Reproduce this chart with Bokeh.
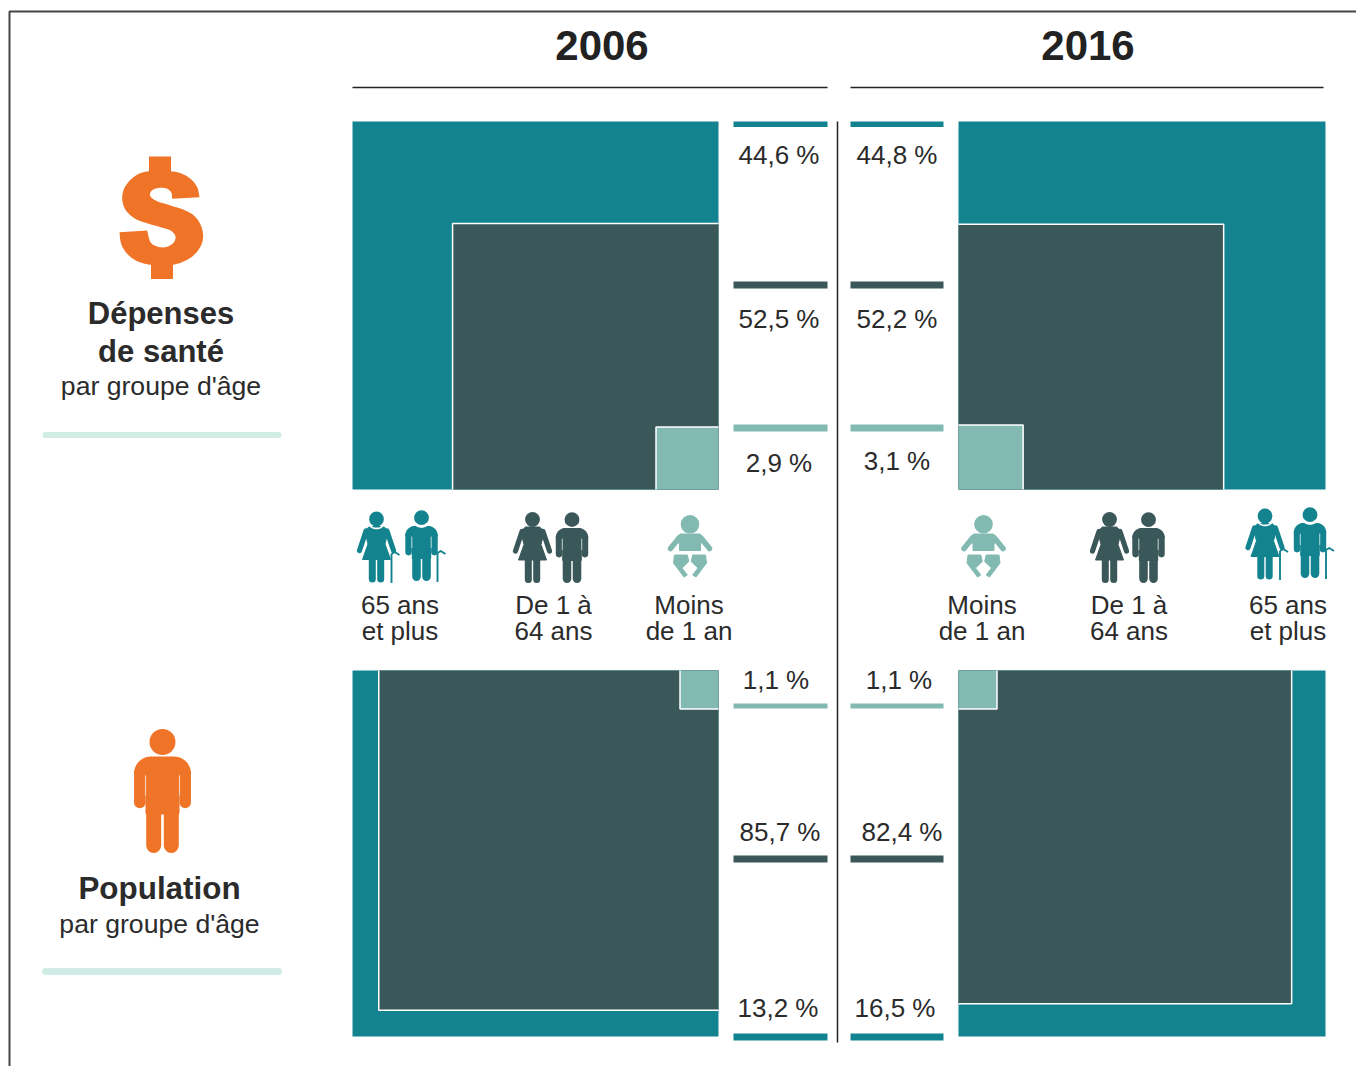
from bokeh.plotting import figure
from bokeh.embed import file_html
from bokeh.resources import INLINE
from bokeh.core.properties import value
from bokeh.models import Range1d
import numpy as np

years = ["2006", "2016"]
groups = ["65 ans\net plus", "De 1 à\n64 ans", "Moins\nde 1 an"]
spending_2006 = [44.6, 52.5, 2.9]
spending_2016 = [44.8, 52.2, 3.1]
population_2006 = [13.2, 85.7, 1.1]
population_2016 = [16.5, 82.4, 1.1]
spending_title = ["Dépenses", "de santé"]
population_title = ["Population"]
subtitle = "par groupe d'âge"

TEAL, DARK, LIGHT, ORANGE, PALE, INK = "#13848F", "#3A5759", "#82BAB2", "#F07427", "#D1EBE5", "#2B2B2B"
COL = [TEAL, DARK, LIGHT]
FONT = value("Liberation Sans")

W, H = 1356, 1066
p = figure(width=W, height=H, output_backend="svg", toolbar_location=None,
           x_range=Range1d(0, W), y_range=Range1d(H, 0), min_border=0)
p.axis.visible = False
p.grid.visible = False
p.outline_line_color = None
p.background_fill_color = "white"


def label(x, y, t, size, bold=False, color=INK, align="center"):
    p.text([x - 0.5], [y - 1], text=[t], text_font=FONT, text_font_size=f"{size}px",
           text_font_style="bold" if bold else "normal", text_color=color,
           text_align=align, text_baseline="middle")


# frame
p.line([9, 9, W], [H, 11, 11], line_color="#444444", line_width=2)

# year headers
for yr, cx, x0, x1 in zip(years, [602, 1088], [352, 850], [827, 1323]):
    label(cx, 46, yr, 42, bold=True, color="#222222")
    p.line([x0, x1], [87, 87], line_color="#222222", line_width=1.5)

# centre divider
p.line([837, 837], [121, 1042], line_color="#222222", line_width=1.5)

SIDE = 367.0


def squares(vals, anchor_x, anchor_y, direction):
    """Nested squares whose areas are the shares; the outer one is the whole."""
    ay = 1 if anchor_y == "bottom" else -1
    y0 = 489 if ay == 1 else 670
    far_x = 352 if direction < 0 else 1325
    far_y = 121 if ay == 1 else 1036
    p.quad(left=[min(anchor_x, far_x)], right=[max(anchor_x, far_x)], top=[far_y], bottom=[y0],
           fill_color=COL[0], line_color=None)
    for v, c in zip(vals[1:], COL[1:]):
        s = SIDE * np.sqrt(v / 100.0)
        xo = anchor_x + direction * s
        yo = y0 - ay * s
        p.quad(left=[min(anchor_x, xo)], right=[max(anchor_x, xo)], top=[yo], bottom=[y0],
               fill_color=c, line_color=None)
        p.line([xo, xo, anchor_x], [y0, yo, yo], line_color="white", line_width=1.5)


squares(spending_2006, 718, "bottom", -1)
squares(spending_2016, 958, "bottom", 1)
squares(population_2006, 718, "top", -1)
squares(population_2016, 958, "top", 1)

fmt = lambda v: f"{v:.1f}".replace(".", ",") + " %"
BAR_YS = {"top": [(121, 126.5), (281, 288), (424, 431)], "bot": [(1033, 1040), (855, 862), (703, 708)]}
top_lab = [[155, 319, 463], [155, 319, 461]]
bot_lab = [[1008, 832, 680], [1008, 832, 680]]
top_x = [779, 897]
bot_x = [[778, 780, 776], [895, 902, 899]]
bars_x = [(733, 827), (850, 943)]
for i, vals in enumerate([spending_2006, spending_2016]):
    for j, v in enumerate(vals):
        a, b = BAR_YS["top"][j]
        p.quad(left=[bars_x[i][0]], right=[bars_x[i][1]], top=[a], bottom=[b], fill_color=COL[j], line_color=None)
        label(top_x[i], top_lab[i][j], fmt(v), 26)
for i, vals in enumerate([population_2006, population_2016]):
    for j, v in enumerate(vals):
        a, b = BAR_YS["bot"][j]
        p.quad(left=[bars_x[i][0]], right=[bars_x[i][1]], top=[a], bottom=[b], fill_color=COL[j], line_color=None)
        label(bot_x[i][j], bot_lab[i][j], fmt(v), 26)


# icons -------------------------------------------------------------------
def arc_pts(cx, cy, r, a0, a1, n=10):
    t = np.radians(np.linspace(a0, a1, n))
    return cx + r * np.cos(t), cy + r * np.sin(t)


def man(cx, top, c, k=1.0):
    """Person drawn on a 57 x 124 box (scaled by k)."""
    p.circle([cx], [top + 12.5 * k], radius=13 * k, fill_color=c, line_color=None)
    xl, yl = arc_pts(cx - 11.5 * k, top + 44 * k, 17 * k, 180, 270)
    xr, yr = arc_pts(cx + 11.5 * k, top + 44 * k, 17 * k, 270, 360)
    xs = np.concatenate([xl, xr, [cx + 28.5 * k, cx + 16.5 * k, cx + 16.5 * k, cx - 16.5 * k, cx - 16.5 * k, cx - 28.5 * k]])
    ys = np.concatenate([yl, yr, [top + 45 * k, top + 45 * k, top + 85 * k, top + 85 * k, top + 45 * k, top + 45 * k]])
    p.patch(xs, ys, fill_color=c, line_color=None)
    p.segment([cx - 22.7 * k, cx + 22.7 * k], [top + 44 * k] * 2, [cx - 22.7 * k, cx + 22.7 * k], [top + 73 * k] * 2,
              line_color=c, line_width=11.5 * k, line_cap="round")
    p.segment([cx - 8.8 * k, cx + 8.8 * k], [top + 80 * k] * 2, [cx - 8.8 * k, cx + 8.8 * k], [top + 116 * k] * 2,
              line_color=c, line_width=15 * k, line_cap="round")
    p.patch([cx - 17 * k, cx + 17 * k, cx + 17 * k, cx - 17 * k],
            [top + 40 * k, top + 40 * k, top + 84 * k, top + 84 * k], fill_color=c, line_color=None)
    p.segment([cx - 17 * k, cx + 17 * k], [top + 46 * k] * 2, [cx - 17 * k, cx + 17 * k], [top + 66 * k] * 2,
              line_color="#FFFFFF", line_alpha=0.55, line_width=1.2)


def woman(cx, top, c):
    p.circle([cx], [top + 7], radius=7.4, fill_color=c, line_color=None)
    xs = np.array([-7, 7, 12, 10, 8.5, 14, -14, -8.5, -10, -12]) + cx
    ys = np.array([14.5, 14.5, 19, 26, 32, 47.5, 47.5, 32, 26, 19]) + top
    p.patch(xs, ys, fill_color=c, line_color=c, line_width=1, line_join="round")
    p.segment([cx - 10.5, cx + 10.5], [top + 19] * 2, [cx - 17, cx + 17], [top + 38.5] * 2,
              line_color=c, line_width=5.2, line_cap="round")
    p.segment([cx - 4.2, cx + 4.2], [top + 47] * 2, [cx - 4.2, cx + 4.2], [top + 67] * 2,
              line_color=c, line_width=7, line_cap="round")


def collar(cx, cy, r):
    x, y = arc_pts(cx, cy, r, 20, 160)
    p.line(x, y, line_color="white", line_width=1.6)


def cane(x, top, c, hook):
    p.line([x, x + hook * 0.4, x + hook], [top + 42, top + 40, top + 43], line_color=c, line_width=2, line_join="round")
    p.line([x, x], [top + 42, top + 71], line_color=c, line_width=1.9)


def baby(cx, top, c):
    p.circle([cx], [top + 9.3], radius=9.3, fill_color=c, line_color=None)
    xs = np.array([-10, 10, 14, 10.5, 10.5, -10.5, -10.5, -14]) + cx
    ys = np.array([19, 19, 24, 29, 35.5, 35.5, 29, 24]) + top
    p.patch(xs, ys, fill_color=c, line_color=c, line_width=1, line_join="round")
    p.segment([cx - 11, cx + 11], [top + 23] * 2, [cx - 19.5, cx + 19.5], [top + 33.5] * 2,
              line_color=c, line_width=5.5, line_cap="round")
    for sgn in (-1, 1):
        xs = sgn * np.array([15.5, 2.7, 1.2, 8, 2.7, 6, 16.5]) + cx
        ys = np.array([40, 40, 46.5, 53, 60, 62, 48]) + top
        p.patch(xs, ys, fill_color=c, line_color=c, line_width=1, line_join="round")


K = 0.57
woman(376, 511.5, TEAL); cane(391, 511.5, TEAL, 8); collar(376, 518.5, 9.5)
man(421, 510, TEAL, K); cane(437, 510.5, TEAL, 8); collar(421, 517, 9.5)
woman(532, 512, DARK); man(571.5, 512, DARK, K)
baby(689.5, 514.5, LIGHT)
baby(983, 514.5, LIGHT)
woman(1109, 512, DARK); man(1148, 512, DARK, K)
woman(1264.5, 508.5, TEAL); cane(1279.5, 508.5, TEAL, 8); collar(1264.5, 515.5, 9.5)
man(1309.5, 507, TEAL, K); cane(1325.5, 507.5, TEAL, 8); collar(1309.5, 514, 9.5)

for t, x in zip(groups + groups[::-1], [400, 553.5, 689, 982, 1129, 1288]):
    a, b = t.split("\n")
    label(x, 605, a, 26)
    label(x, 631, b, 26)


# dollar sign icon: traced outline, smoothed
def catmull(pts, n=6):
    pts = np.asarray(pts, dtype=float)
    q = np.vstack([pts[0], pts, pts[-1]])
    out = []
    for i in range(1, len(q) - 2):
        for t in np.linspace(0, 1, n, endpoint=False):
            out.append(0.5 * (2 * q[i] + (q[i + 1] - q[i - 1]) * t
                              + (2 * q[i - 1] - 5 * q[i] + 4 * q[i + 1] - q[i + 2]) * t ** 2
                              + (3 * q[i] - q[i - 1] - 3 * q[i + 1] + q[i + 2]) * t ** 3))
    out.append(pts[-1])
    return np.array(out)


run_a = [(597, 200), (590, 170), (570, 145), (540, 128), (510, 122), (480, 120), (445, 122), (415, 130), (390, 148),
         (372, 172), (365, 200), (370, 228), (385, 250), (410, 268), (445, 280), (480, 290), (510, 300), (525, 318),
         (518, 338), (495, 350), (470, 348), (450, 335), (440, 300)]
run_b = [(357, 305), (362, 340), (380, 370), (410, 392), (450, 403), (485, 405), (530, 400), (570, 382), (598, 352),
         (608, 318), (600, 282), (580, 255), (550, 238), (510, 225), (470, 212), (450, 198), (452, 182), (470, 173),
         (495, 173), (512, 185), (515, 205)]
outline = np.vstack([catmull(run_a), catmull(run_b)])
p.patch(outline[:, 0] / 3, 130 + outline[:, 1] / 3, fill_color=ORANGE, line_color=None)
p.quad(left=[148.5, 150.5], right=[170.5, 172.5], top=[156, 260], bottom=[175, 278.5], fill_color=ORANGE, line_color=None)

label(161, 314, spending_title[0], 31, bold=True)
label(161, 352, spending_title[1], 31, bold=True)
label(161, 386, subtitle, 26.6)
p.line([45, 278], [434.5, 434.5], line_color=PALE, line_width=6, line_cap="round")

man(162, 729, ORANGE, 1.0)
label(159.5, 889, population_title[0], 31.4, bold=True)
label(159.5, 924, subtitle, 26.6)
p.line([45, 278], [971, 971], line_color=PALE, line_width=7, line_cap="round")

open("out.html", "w").write(file_html(p, INLINE))
